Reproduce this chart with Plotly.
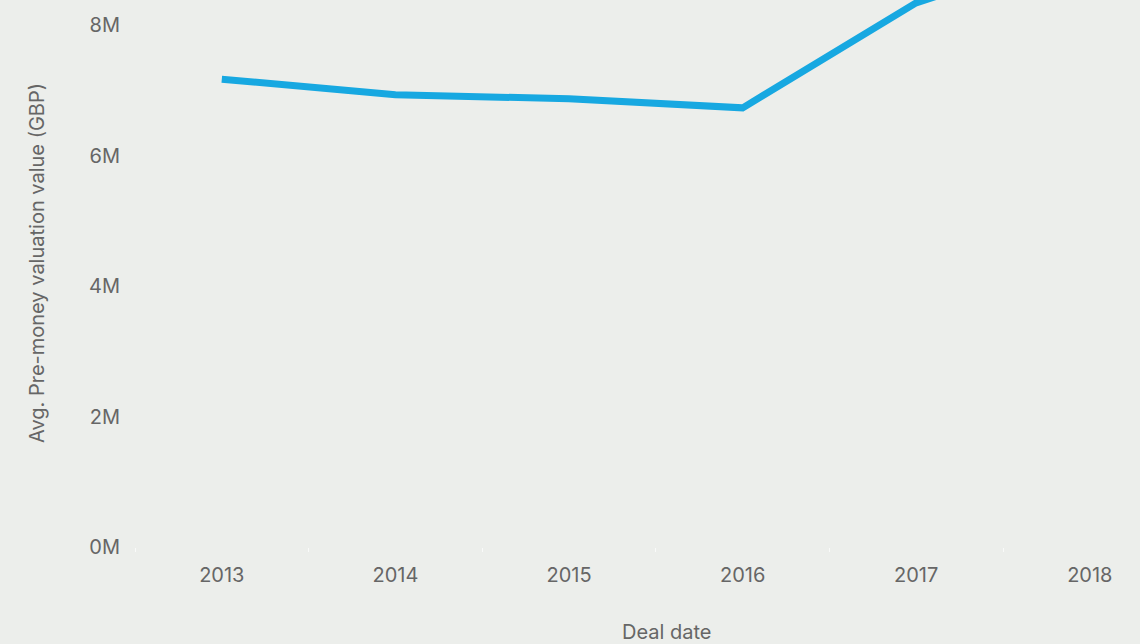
import plotly.graph_objects as go

# Average pre-money valuation by deal year (GBP)
years = [2013, 2014, 2015, 2016, 2017, 2018]
avg_valuation = [7170000, 6930000, 6870000, 6730000, 8340000, 9200000]

y_tick_values = [0, 2000000, 4000000, 6000000, 8000000]
y_tick_labels = ["0M", "2M", "4M", "6M", "8M"]

bg = "#ECEEEB"
text_col = "#666666"
line_col = "#17A8E1"
font_family = "Inter, Liberation Sans, Arial, sans-serif"
font_size = 20

# plot area in pixels
margin_l, margin_b = 135, 97
plot_w = 1140 - margin_l
plot_h = 644 - margin_b
px_per_year = 173.6
px_per_million = 65.25

fig = go.Figure()
fig.add_trace(go.Scatter(
    x=years,
    y=avg_valuation,
    mode="lines",
    line=dict(color=line_col, width=7),
    hoverinfo="x+y",
    showlegend=False,
))

fig.update_layout(
    width=1140,
    height=644,
    margin=dict(l=margin_l, r=0, t=0, b=margin_b),
    paper_bgcolor=bg,
    plot_bgcolor=bg,
    font=dict(family=font_family, size=font_size, color=text_col),
    xaxis=dict(
        range=[2012.5, 2012.5 + plot_w / px_per_year],
        tickvals=years,
        ticktext=[str(y) for y in years],
        showgrid=False,
        zeroline=False,
        showline=False,
        ticks="",
        ticklabelstandoff=14,
        tickfont=dict(size=font_size, color=text_col),
        minor=dict(tickvals=[y + 0.5 for y in [2012] + years], ticks="outside",
                   ticklen=4, tickcolor="rgba(255,255,255,0.7)", tickwidth=1),
    ),
    yaxis=dict(
        range=[0, plot_h / px_per_million * 1e6],
        tickvals=y_tick_values,
        ticktext=y_tick_labels,
        showgrid=False,
        zeroline=False,
        showline=False,
        ticks="",
        ticklabelstandoff=14,
        tickfont=dict(size=font_size, color=text_col),
    ),
    annotations=[
        dict(text="Deal date", xref="paper", yref="paper",
             x=(666 - margin_l) / plot_w, y=-(632 - plot_h) / plot_h,
             xanchor="center", yanchor="middle", showarrow=False,
             font=dict(size=font_size, color=text_col)),
        dict(text="Avg. Pre-money valuation value (GBP)", textangle=-90,
             xref="paper", yref="paper",
             x=(37 - margin_l) / plot_w, y=(plot_h - 263) / plot_h,
             xanchor="center", yanchor="middle", showarrow=False,
             font=dict(size=font_size, color=text_col)),
    ],
)

fig.write_html("out.html")
